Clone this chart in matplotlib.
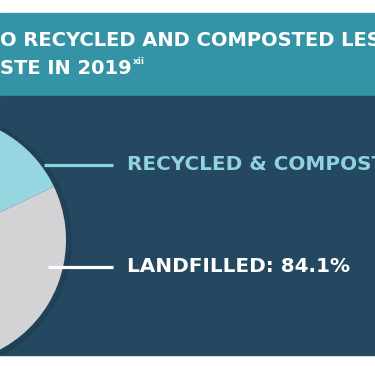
import matplotlib.pyplot as plt
from matplotlib.patches import Rectangle, Circle

# Data
labels = ["RECYCLED & COMPOSTED: 15.9%", "LANDFILLED: 84.1%"]
shares = [15.9, 84.1]
slice_colors = ["#95d6e0", "#d3d3d5"]
label_colors = ["#8fd3df", "#ffffff"]
title_lines = ["O RECYCLED AND COMPOSTED LESS", "STE IN 2019"]

# Style settings
W, H = 375, 366
teal = "#3494a5"
navy = "#244860"
font = ["DejaVu Sans"]

fig = plt.figure(figsize=(W / 100, H / 100), dpi=100)
ax = fig.add_axes([0, 0, 1, 1])
ax.set_axis_off()

# background bands (pixel coords, y measured from bottom)
ax.add_patch(Rectangle((0, 0), W, H, color="white", zorder=0))
ax.add_patch(Rectangle((0, H - 96), W, 83, color=teal, zorder=1))
ax.add_patch(Rectangle((0, H - 355), W, 259, color=navy, zorder=1))

# pie, mostly off the left edge
cx, cy, r = -58, H - 240, 124
ax.add_patch(Circle((cx + 2, cy - 1), r + 3, color="#1b374a", alpha=0.4, zorder=2))
ax.pie(shares, colors=slice_colors, startangle=25.5, counterclock=True,
       center=(cx, cy), radius=r, frame=True,
       wedgeprops=dict(linewidth=0, zorder=3))

# leader lines and labels
label_y = [H - 165, H - 267]
line_x0 = [44, 48]
for lab, y, x0, c in zip(labels, label_y, line_x0, label_colors):
    ax.plot([x0, 113], [y, y], color=c, linewidth=2.3, solid_capstyle="butt", zorder=4)
    ax.text(127, y + 1, lab, color=c, fontsize=14.4, fontweight="bold",
            family=font, va="center", ha="left", zorder=5)

# banner title
ax.text(0, H - 41, title_lines[0], color="white", fontsize=14, fontweight="bold",
        family=font, va="center", ha="left", zorder=5)
ax.text(0, H - 69, title_lines[1], color="white", fontsize=14, fontweight="bold",
        family=font, va="center", ha="left", zorder=5)
ax.text(133, H - 62, "xii", color="white", fontsize=6.5, fontweight="bold",
        family=font, va="center", ha="left", zorder=5)

ax.set_xlim(0, W)
ax.set_ylim(0, H)
ax.set_aspect("auto")

plt.savefig("out.png", dpi=100)
plt.close()
